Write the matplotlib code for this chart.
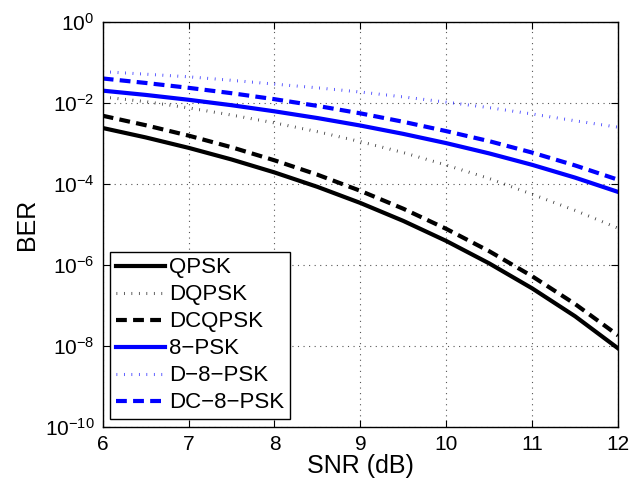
import matplotlib
matplotlib.use("Agg")
import matplotlib.pyplot as plt
from matplotlib.ticker import FixedLocator, FixedFormatter, NullLocator

plt.rcParams['font.family'] = ['Liberation Sans', 'DejaVu Sans']
plt.rcParams['mathtext.fontset'] = 'custom'
plt.rcParams['mathtext.rm'] = 'Liberation Sans'
plt.rcParams['mathtext.it'] = 'Liberation Sans:italic'
plt.rcParams['mathtext.bf'] = 'Liberation Sans:bold'

snr = [6, 6.5, 7, 7.5, 8, 8.5, 9, 9.5, 10, 10.5, 11, 11.5, 12]
qpsk = [2.39e-3, 1.40e-3, 7.73e-4, 3.99e-4, 1.91e-4, 8.40e-5, 3.36e-5, 1.21e-5,
        3.87e-6, 1.08e-6, 2.61e-7, 5.33e-8, 8.6e-9]
dqpsk = [1.4e-2, 1.07e-2, 7.5e-3, 5.0e-3, 3.2e-3, 1.94e-3, 1.1e-3, 5.9e-4,
         2.9e-4, 1.35e-4, 5.5e-5, 2.2e-5, 8.0e-6]
dcqpsk = [4.8e-3, 2.8e-3, 1.55e-3, 8.0e-4, 3.8e-4, 1.68e-4, 6.7e-5, 2.42e-5,
          7.7e-6, 2.16e-6, 5.2e-7, 1.07e-7, 1.8e-8]
psk8 = [2.0e-2, 1.57e-2, 1.19e-2, 8.74e-3, 6.17e-3, 4.21e-3, 2.75e-3, 1.71e-3,
        1.01e-3, 5.63e-4, 2.94e-4, 1.42e-4, 6.3e-5]
d8psk = [5.9e-2, 5.1e-2, 4.4e-2, 3.6e-2, 2.9e-2, 2.35e-2, 1.85e-2, 1.4e-2,
         1.04e-2, 7.6e-3, 5.3e-3, 3.6e-3, 2.5e-3]
dc8psk = [4.0e-2, 3.1e-2, 2.35e-2, 1.73e-2, 1.23e-2, 8.4e-3, 5.5e-3, 3.4e-3,
          2.0e-3, 1.13e-3, 5.9e-4, 2.84e-4, 1.26e-4]

labels = ['QPSK', 'DQPSK', 'DCQPSK', '8\u2212PSK', 'D\u22128\u2212PSK', 'DC\u22128\u2212PSK']
xticks = [6, 7, 8, 9, 10, 11, 12]
yticks = [1e-10, 1e-8, 1e-6, 1e-4, 1e-2, 1e0]
yticklabels = [r'$\mathregular{10^{-10}}$', r'$\mathregular{10^{-8}}$', r'$\mathregular{10^{-6}}$',
               r'$\mathregular{10^{-4}}$', r'$\mathregular{10^{-2}}$', r'$\mathregular{10^{0}}$']

fig = plt.figure(figsize=(6.32, 4.86), dpi=100)
ax = fig.add_axes([0.1625, 0.122, 0.8155, 0.833])

lw = 3.0
dash = (2.6, 1.5)
dot = (0.25, 2.2)
ax.plot(snr, qpsk, color='black', lw=lw, label=labels[0])
ax.plot(snr, dqpsk, color='black', lw=2.2, dashes=dot, dash_capstyle='butt', label=labels[1], alpha=0.8)
ax.plot(snr, dcqpsk, color='black', lw=lw, dashes=dash, dash_capstyle='butt', label=labels[2])
ax.plot(snr, psk8, color='blue', lw=lw, label=labels[3])
ax.plot(snr, d8psk, color='blue', lw=2.2, dashes=dot, dash_capstyle='butt', label=labels[4], alpha=0.8)
ax.plot(snr, dc8psk, color='blue', lw=lw, dashes=dash, dash_capstyle='butt', label=labels[5])

ax.set_yscale('log')
ax.set_xlim(6, 12)
ax.set_ylim(1e-10, 1e0)
ax.xaxis.set_major_locator(FixedLocator(xticks))
ax.yaxis.set_major_locator(FixedLocator(yticks))
ax.yaxis.set_major_formatter(FixedFormatter(yticklabels))
ax.yaxis.set_minor_locator(NullLocator())
ax.xaxis.set_minor_locator(NullLocator())
ax.tick_params(direction='in', top=True, right=True, labelsize=15, length=5, width=0.8, pad=6)
ax.grid(True, which='major', linestyle=(0, (1, 4)), color='#555555', linewidth=0.8)
for s in ax.spines.values():
    s.set_linewidth(1.0)

ax.set_xlabel('SNR (dB)', fontsize=18, labelpad=0)
ax.set_ylabel('BER', fontsize=18, labelpad=4)

leg = ax.legend(loc='lower left', fontsize=16, frameon=True, fancybox=False,
                edgecolor='black', framealpha=1, handlelength=2.2, handletextpad=0.2,
                labelspacing=0.27, borderpad=0.25, borderaxespad=0.35)
leg.get_frame().set_linewidth(1.0)

fig.savefig('out.png', dpi=100)
